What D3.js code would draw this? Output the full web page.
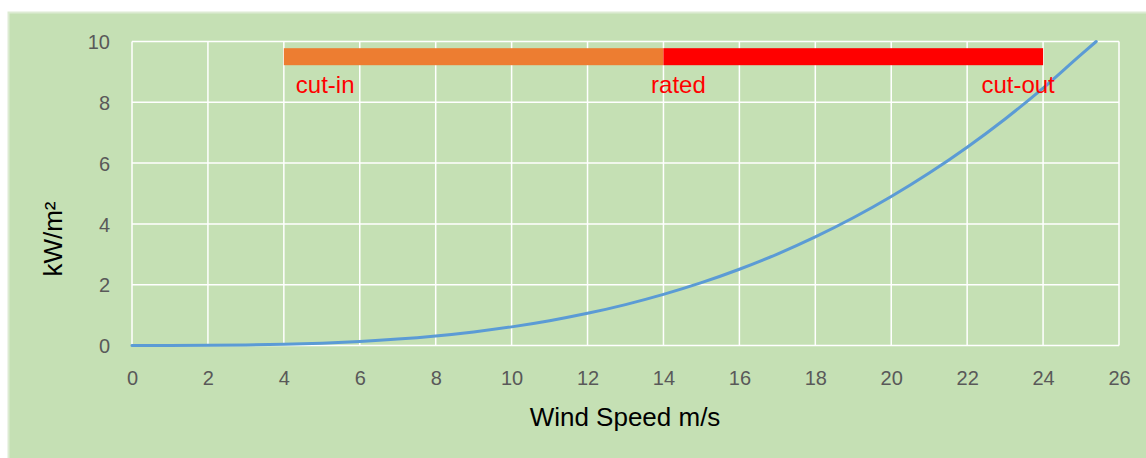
<!DOCTYPE html>
<html>
<head>
<meta charset="utf-8">
<script src="https://cdn.jsdelivr.net/npm/d3@7"></script>
<style>
  body { margin: 0; background: #fff; }
  svg { display: block; }
</style>
</head>
<body>
<svg id="chart" width="1146" height="458"></svg>
<script>
// wind speed (m/s) and power density (kW/m²)
const speeds = [0, 1, 2, 3, 4, 5, 6, 7, 8, 9, 10, 11, 12, 13, 14, 15, 16, 17, 18, 19, 20, 21, 22, 23, 24, 25, 25.4];
const power = [0, 0.001, 0.005, 0.017, 0.039, 0.077, 0.132, 0.21, 0.314, 0.447, 0.613, 0.815, 1.058, 1.346, 1.681, 2.067, 2.509, 3.009, 3.572, 4.201, 4.9, 5.672, 6.522, 7.452, 8.467, 9.57, 10.0];

const xTicks = [0, 2, 4, 6, 8, 10, 12, 14, 16, 18, 20, 22, 24, 26];
const yTicks = [0, 2, 4, 6, 8, 10];

// operating ranges drawn as bars near the top
const ranges = [
  { from: 4, to: 14, color: "#ED7D31" },
  { from: 14, to: 24, color: "#FF0000" }
];
const markers = [
  { label: "cut-in", at: 4, anchor: "start", dx: 12 },
  { label: "rated", at: 14, anchor: "middle", dx: 15 },
  { label: "cut-out", at: 24, anchor: "middle", dx: -25 }
];
const barLevel = 9.5;

const svg = d3.select("#chart");
const plot = { left: 132, right: 1119, top: 41.5, bottom: 345.5 };

const x = d3.scaleLinear().domain([0, 26]).range([plot.left, plot.right]);
const y = d3.scaleLinear().domain([0, 10]).range([plot.bottom, plot.top]);

// chart area background
svg.append("rect")
  .attr("x", 8.5).attr("y", 12.5)
  .attr("width", 1146).attr("height", 458)
  .attr("fill", "#C5E0B4")
  .attr("stroke", "#DDEBD3").attr("stroke-width", 2);

// gridlines
svg.append("g")
  .selectAll("line")
  .data(xTicks)
  .join("line")
  .attr("x1", d => x(d)).attr("x2", d => x(d))
  .attr("y1", plot.top).attr("y2", plot.bottom)
  .attr("stroke", "#fff").attr("stroke-width", 1.5);

svg.append("g")
  .selectAll("line")
  .data(yTicks)
  .join("line")
  .attr("x1", plot.left).attr("x2", plot.right)
  .attr("y1", d => y(d)).attr("y2", d => y(d))
  .attr("stroke", "#fff").attr("stroke-width", 1.5);

// axes (labels only)
const xAxis = svg.append("g")
  .attr("transform", `translate(0,${plot.bottom})`)
  .call(d3.axisBottom(x).tickValues(xTicks).tickSize(0).tickPadding(39));
const yAxis = svg.append("g")
  .attr("transform", `translate(${plot.left},0)`)
  .call(d3.axisLeft(y).tickValues(yTicks).tickSize(0).tickPadding(22));

[xAxis, yAxis].forEach(a => {
  a.select(".domain").remove();
  a.selectAll("text")
    .attr("fill", "#595959")
    .style("font-family", "'Liberation Sans', Arial, sans-serif")
    .style("font-size", "20px");
});
xAxis.selectAll("text").attr("dy", "0");
yAxis.selectAll("text").attr("dy", "0.36em");

// range bars
const barH = 17;
svg.append("g")
  .selectAll("rect")
  .data(ranges)
  .join("rect")
  .attr("x", d => x(d.from))
  .attr("width", d => x(d.to) - x(d.from))
  .attr("y", y(barLevel) - barH / 2)
  .attr("height", barH)
  .attr("fill", d => d.color);

// curve
const line = d3.line()
  .x((d, i) => x(speeds[i]))
  .y(d => y(d))
  .curve(d3.curveMonotoneX);

svg.append("path")
  .datum(power)
  .attr("d", line)
  .attr("fill", "none")
  .attr("stroke", "#5B9BD5")
  .attr("stroke-width", 3)
  .attr("stroke-linecap", "round");

// range labels
svg.append("g")
  .selectAll("text")
  .data(markers)
  .join("text")
  .attr("x", d => x(d.at) + d.dx)
  .attr("y", 92.5)
  .attr("text-anchor", d => d.anchor)
  .attr("fill", "#FF0000")
  .style("font-family", "'Liberation Sans', Arial, sans-serif")
  .style("font-size", "24px")
  .text(d => d.label);

// axis titles
svg.append("text")
  .attr("x", 625)
  .attr("y", 426)
  .attr("text-anchor", "middle")
  .attr("fill", "#000")
  .style("font-family", "'Liberation Sans', Arial, sans-serif")
  .style("font-size", "26px")
  .text("Wind Speed m/s");

svg.append("text")
  .attr("transform", `translate(62,239) rotate(-90)`)
  .attr("text-anchor", "middle")
  .attr("fill", "#000")
  .style("font-family", "'Liberation Sans', Arial, sans-serif")
  .style("font-size", "26px")
  .text("kW/m²");
</script>
</body>
</html>
